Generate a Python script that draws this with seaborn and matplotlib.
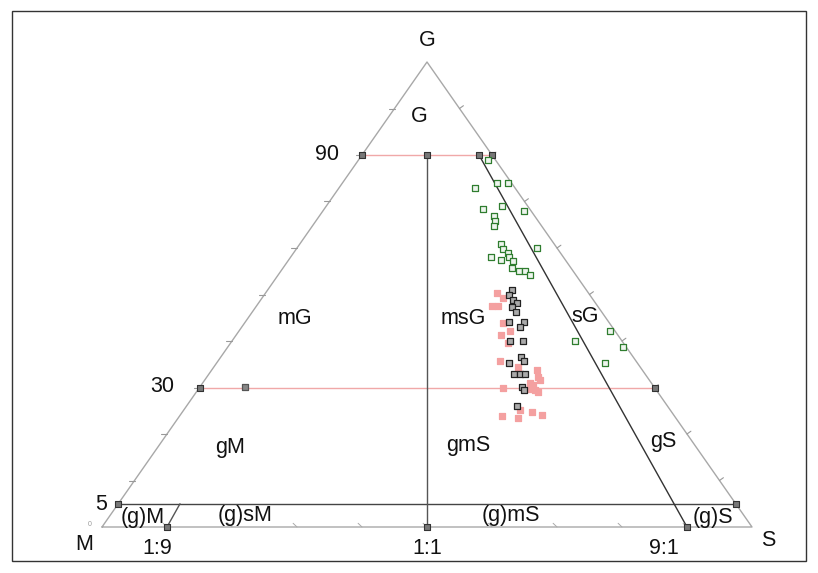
import matplotlib
matplotlib.use("Agg")
import matplotlib.pyplot as plt
import seaborn as sns
import pandas as pd
import numpy as np

# ---- data: gravel (G) and sand (S) percentages; mud = 100 - G - S ----
green_G = [78.9, 72.9, 74.0, 74.0, 68.4, 69.0, 68.0, 66.9, 65.8, 64.7, 60.9, 59.8, 58.9,
           58.1, 57.4, 58.1, 57.2, 55.7, 55.1, 55.1, 54.2, 60.0, 40.0, 35.3, 42.2, 38.7]
green_S = [19.9, 20.9, 23.8, 25.5, 24.4, 27.0, 30.9, 26.9, 27.6, 27.9, 31.0, 31.8, 33.0,
           30.8, 32.7, 33.6, 34.6, 35.3, 36.6, 37.6, 38.7, 36.9, 52.8, 59.7, 57.1, 60.8]

black_G = [51.0, 49.9, 48.8, 48.2, 47.3, 46.2, 44.1, 44.1, 43.0, 40.0, 40.0, 36.6, 35.7,
           35.3, 32.9, 32.9, 32.9, 30.1, 29.5, 26.0]
black_S = [37.6, 37.6, 38.8, 39.7, 39.5, 40.6, 40.6, 42.8, 42.8, 42.8, 44.8, 46.2, 47.0,
           44.9, 46.9, 47.8, 48.7, 49.5, 50.1, 50.8]

pink_G = [50.3, 49.2, 47.5, 47.5, 43.9, 42.2, 41.3, 39.6, 35.7, 34.4, 33.8, 32.3, 31.6,
          31.0, 29.7, 29.5, 29.0, 29.9, 25.2, 24.7, 24.1, 23.9, 23.4, 30.5]
pink_S = [35.6, 37.1, 36.2, 37.2, 39.8, 41.7, 40.8, 42.7, 43.4, 46.8, 50.0, 51.0, 51.6,
          50.3, 51.0, 51.9, 52.6, 46.8, 51.7, 53.8, 55.7, 49.6, 52.3, 51.0]

gray_G = [30.1]
gray_S = [6.9]

# reference nodes of the classification grid (G, S)
node_G = [80, 80, 80, 80, 30, 30, 5, 5, 0, 0, 0]
node_S = [0, 10, 18, 20, 0, 70, 0, 95, 10, 50, 90]

# class labels
class_names = ["G", "mG", "msG", "sG", "gM", "gmS", "gS", "(g)M", "(g)sM", "(g)mS", "(g)S"]
class_px = [(419, 116), (295, 318), (463, 318), (585, 316), (230, 447), (468, 446),
            (663, 441), (143, 517), (245, 516), (511, 516), (713, 517)]
gravel_ticks = ["90", "30", "5"]
ratio_ticks = ["1:9", "1:1", "9:1"]


def tern(G, S):
    G = np.asarray(G, float) / 100.0
    S = np.asarray(S, float) / 100.0
    return S + G / 2.0, G


def px(x, y):
    return (x - 102) / 650.0, (527 - y) / 465.0


frames = []
for name, Gs, Ss in [("green", green_G, green_S), ("black", black_G, black_S),
                     ("pink", pink_G, pink_S), ("gray", gray_G, gray_S)]:
    x, y = tern(Gs, Ss)
    frames.append(pd.DataFrame({"x": x, "y": y, "group": name}))
df = pd.concat(frames, ignore_index=True)

sns.set_theme(style="white")
plt.rcParams["font.family"] = ["Liberation Sans", "DejaVu Sans"]

fig = plt.figure(figsize=(8.18, 5.73), dpi=100)
ax = fig.add_axes([102 / 818, 46 / 573, 650 / 818, 465 / 573])
ax.set_xlim(0, 1)
ax.set_ylim(0, 1)
ax.axis("off")

FS = 15.5

# outer frame of picture
fig.add_artist(plt.Rectangle((12 / 818, 12 / 573), 794 / 818, 550 / 573,
                             transform=fig.transFigure, fill=False,
                             edgecolor="#333333", lw=1.0))

# triangle edges
ax.plot([0, 1, 0.5, 0], [0, 0, 1, 0], color="#a8a8a8", lw=1.0, clip_on=False)

# edge ticks
for f in np.arange(0.1, 1.0, 0.1):
    lx, ly = f / 2, f
    ax.plot([lx - 0.009, lx], [ly, ly], color="#999999", lw=0.8, clip_on=False)
    rx, ry = 1 - f / 2, f
    ax.plot([rx, rx + 0.006], [ry, ry + 0.006], color="#999999", lw=0.8, clip_on=False)
    ax.plot([f, f - 0.006], [0, 0.008], color="#aaaaaa", lw=0.7, clip_on=False)

# classification lines
ax.plot([0.4, 0.6], [0.8, 0.8], color="#f0a8a8", lw=1.0)
ax.plot([0.15, 0.85], [0.3, 0.3], color="#f0a8a8", lw=1.0)
ax.plot([0.025, 0.975], [0.05, 0.05], color="#444444", lw=1.0)
ax.plot([0.5, 0.5], [0.0, 0.8], color="#555555", lw=1.0)
ax.plot([0.9, 0.58], [0.0, 0.8], color="#333333", lw=1.0)
ax.plot([0.1, 0.12], [0.0, 0.05], color="#555555", lw=1.0)

# nodes
nx, ny = tern(node_G, node_S)
ax.scatter(nx, ny, marker="s", s=14, facecolor="#777777", edgecolor="#333333",
           linewidth=0.8, zorder=4, clip_on=False)

# sample points
pal = {"green": "#2f7d2f", "black": "#222222", "pink": "#f4a0a0", "gray": "#555555"}
face = {"green": "#eef5ee", "black": "#aaaaaa", "pink": "#f4a0a0", "gray": "#888888"}
for g in ["green", "pink", "black", "gray"]:
    sub = df[df.group == g]
    sns.scatterplot(data=sub, x="x", y="y", ax=ax, marker="s", s=22,
                    color=face[g], edgecolor=pal[g], linewidth=0.9,
                    legend=False, zorder=5, clip_on=False)
ax.set_xlabel("")
ax.set_ylabel("")
ax.axis("off")

# class labels
for name, (a, b) in zip(class_names, class_px):
    x, y = px(a, b)
    ax.text(x, y, name, ha="center", va="center", fontsize=FS, color="#111111")

# gravel tick labels
for lab, (a, b) in zip(gravel_ticks, [(327, 155), (162, 387), (101, 505)]):
    x, y = px(a, b)
    ax.text(x, y, lab, ha="center", va="center", fontsize=FS, color="#111111")
x, y = px(90, 525)
ax.text(x, y, "0", ha="center", va="center", fontsize=5, color="#999999")

# ratio labels
for lab, (a, b) in zip(ratio_ticks, [(157, 548), (427, 548), (664, 548)]):
    x, y = px(a, b)
    ax.text(x, y, lab, ha="center", va="center", fontsize=FS, color="#111111")

# vertex labels
for lab, (a, b) in [("G", (427, 40)), ("M", (84, 545)), ("S", (768, 540))]:
    x, y = px(a, b)
    ax.text(x, y, lab, ha="center", va="center", fontsize=FS, color="#111111")

fig.savefig("out.png", dpi=100, facecolor="white")
